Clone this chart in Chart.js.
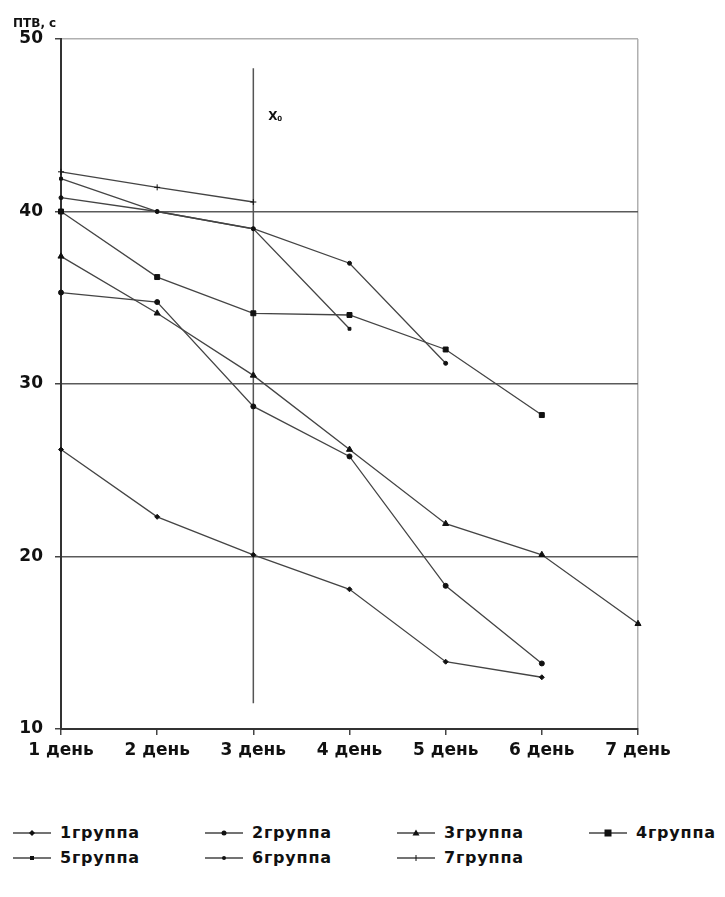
<!DOCTYPE html>
<html>
<head>
<meta charset="utf-8">
<script src="https://cdn.jsdelivr.net/npm/chart.js@4"></script>
<style>
  body { margin: 0; background: #fff; }
  #wrap { position: relative; width: 725px; height: 897px; }
  #chart { position: absolute; left: 0; top: 0; }
  #legend {
    position: absolute; left: 13px; top: 820px;
    display: grid; grid-template-columns: repeat(4, 192px); grid-auto-rows: 25px;
    font-family: "DejaVu Sans", sans-serif; font-weight: bold; font-size: 16px; color: #111;
  }
  #legend .item { display: flex; align-items: center; letter-spacing: 0.8px; }
  #legend svg { margin-right: 9px; flex: none; }
</style>
</head>
<body>
<div id="wrap">
  <canvas id="chart" width="725" height="800"></canvas>
  <div id="legend"></div>
</div>
<script>
// ПТВ по дням, по группам
const days = ["1 день", "2 день", "3 день", "4 день", "5 день", "6 день", "7 день"];

const group1 = [26.2, 22.3, 20.1, 18.1, 13.9, 13.0];
const group2 = [35.3, 34.75, 28.7, 25.8, 18.3, 13.8];
const group3 = [37.4, 34.1, 30.5, 26.2, 21.9, 20.1, 16.1];
const group4 = [40.0, 36.2, 34.1, 34.0, 32.0, 28.2];
const group5 = [41.9, 40.0, 39.0, 33.2];
const group6 = [40.8, 40.0, 39.0, 37.0, 31.2];
const group7 = [42.3, 41.4, 40.55];

const groupNames = ["1группа", "2группа", "3группа", "4группа", "5группа", "6группа", "7группа"];
const yTicks = [10, 20, 30, 40, 50];

// вертикальная линия X0 на 3-й день
const x0Day = 2;
const x0Range = [48.3, 11.5];

const lineColor = "#444";
const markColor = "#111";

function series(label, data, style, r) {
  return {
    label: label,
    data: data,
    borderColor: lineColor,
    borderWidth: 1.3,
    pointStyle: style,
    pointRadius: r,
    pointBackgroundColor: markColor,
    pointBorderColor: markColor,
    pointBorderWidth: 1,
    tension: 0,
  };
}

const datasets = [
  series(groupNames[0], group1, "rectRot", 2.5),
  series(groupNames[1], group2, "circle", 2.5),
  series(groupNames[2], group3, "triangle", 3.5),
  series(groupNames[3], group4, "rect", 3.5),
  series(groupNames[4], group5, "rect", 2),
  series(groupNames[5], group6, "circle", 2),
  series(groupNames[6], group7, "cross", 3),
];

const x0Line = {
  id: "x0Line",
  beforeDatasetsDraw(chart) {
    const { ctx, scales } = chart;
    const x = scales.x.getPixelForValue(x0Day);
    ctx.save();
    ctx.strokeStyle = "#555";
    ctx.lineWidth = 1.5;
    ctx.beginPath();
    ctx.moveTo(x, scales.y.getPixelForValue(x0Range[0]));
    ctx.lineTo(x, scales.y.getPixelForValue(x0Range[1]));
    ctx.stroke();
    ctx.restore();
  },
  afterDraw(chart) {
    const { ctx, scales, chartArea } = chart;
    const x = scales.x.getPixelForValue(x0Day) + 15;
    const y = scales.y.getPixelForValue(45.5);
    ctx.save();
    ctx.fillStyle = "#111";
    ctx.textBaseline = "middle";
    ctx.font = "bold 12px 'DejaVu Sans'";
    ctx.fillText("X", x, y);
    ctx.font = "bold 7px 'DejaVu Sans'";
    ctx.fillText("0", x + 9, y + 3);
    // подпись оси Y
    ctx.font = "bold 12px 'DejaVu Sans'";
    ctx.textBaseline = "alphabetic";
    ctx.fillText("ПТВ, с", chartArea.left - 48, chartArea.top - 12);
    ctx.restore();
  },
};

const config = {
  type: "line",
  data: { labels: days, datasets: datasets },
  options: {
    responsive: false,
    animation: false,
    layout: { padding: { top: 39, right: 87, bottom: 31, left: 0 } },
    plugins: {
      legend: { display: false },
      tooltip: { enabled: false },
    },
    scales: {
      x: {
        offset: false,
        afterFit: (s) => { s.height = 40; },
        grid: {
          drawOnChartArea: true,
          color: (c) => (c.index === days.length - 1 ? "#b0b0b0" : "rgba(0,0,0,0)"),
          lineWidth: 1.5,
          tickColor: "#444",
          tickLength: 6,
        },
        border: { display: true, color: "#333", width: 2 },
        ticks: {
          color: "#111",
          padding: 5,
          maxRotation: 0,
          font: { family: "DejaVu Sans", weight: "bold", size: 17 },
        },
      },
      y: {
        min: yTicks[0],
        max: yTicks[yTicks.length - 1],
        afterFit: (s) => { s.width = 61; },
        afterBuildTicks: (s) => { s.ticks = yTicks.map((v) => ({ value: v })); },
        grid: {
          color: (c) => (c.tick.value === 50 ? "#b0b0b0" : "#5a5a5a"),
          lineWidth: 1.5,
          tickColor: "#444",
          tickLength: 6,
        },
        border: { display: true, color: "#333", width: 2 },
        ticks: {
          color: "#111",
          padding: 12,
          font: { family: "DejaVu Sans", weight: "bold", size: 17 },
        },
      },
    },
  },
  plugins: [x0Line],
};

const myChart = new Chart(document.getElementById("chart").getContext("2d"), config);

// легенда: линия с маркером и подпись
function markerSvg(style, r) {
  const cx = 19, cy = 6;
  let shape = "";
  if (style === "circle") shape = `<circle cx="${cx}" cy="${cy}" r="${r}" fill="${markColor}"/>`;
  else if (style === "rect") shape = `<rect x="${cx - r}" y="${cy - r}" width="${2 * r}" height="${2 * r}" fill="${markColor}"/>`;
  else if (style === "rectRot") shape = `<polygon points="${cx},${cy - r - 0.5} ${cx + r + 0.5},${cy} ${cx},${cy + r + 0.5} ${cx - r - 0.5},${cy}" fill="${markColor}"/>`;
  else if (style === "triangle") shape = `<polygon points="${cx},${cy - r} ${cx + r},${cy + r * 0.7} ${cx - r},${cy + r * 0.7}" fill="${markColor}"/>`;
  else if (style === "cross") shape = `<line x1="${cx}" y1="${cy - r}" x2="${cx}" y2="${cy + r}" stroke="${markColor}" stroke-width="1"/>`;
  return `<svg width="38" height="12"><line x1="0" y1="${cy}" x2="38" y2="${cy}" stroke="${lineColor}" stroke-width="1.3"/>${shape}</svg>`;
}

const legendEl = document.getElementById("legend");
datasets.forEach((ds) => {
  const item = document.createElement("div");
  item.className = "item";
  item.innerHTML = markerSvg(ds.pointStyle, ds.pointRadius) + "<span>" + ds.label + "</span>";
  legendEl.appendChild(item);
});
</script>
</body>
</html>
